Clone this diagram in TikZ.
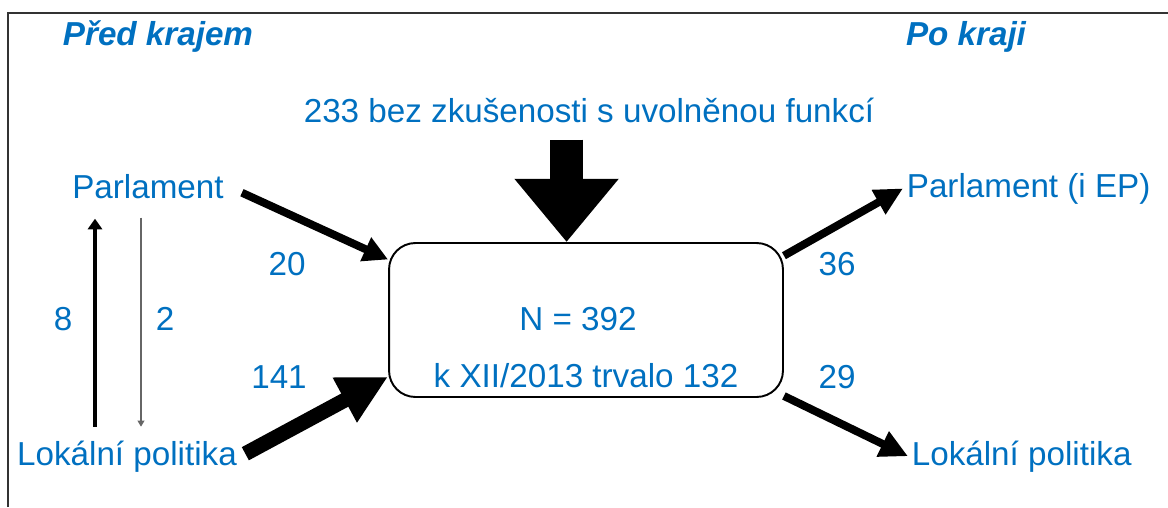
\documentclass[tikz,border=0pt]{standalone}
\usepackage{fontspec}
\setmainfont{Liberation Sans}
\usepackage{tikz}
\usetikzlibrary{arrows.meta}
\definecolor{kraj}{RGB}{0,112,192}

\begin{document}
\begin{tikzpicture}[x=0.02cm,y=-0.02cm,
    txt/.style={text=kraj,font=\fontsize{18.9}{22}\selectfont,inner sep=2pt},
    ttl/.style={txt,font=\fontsize{18.9}{22}\selectfont\bfseries\itshape},
    flow/.style={draw=black,line width=4.5pt,-{Triangle[length=14pt,width=14pt]}}]
  \useasboundingbox (0,0) rectangle (1168,507);
  \draw[line width=1.1pt,black!80] (8,507) -- (8,13) -- (1168,13);

  \node[ttl,anchor=base] (pred) at (158,45) {Před krajem};
  \node[ttl,anchor=base] (po) at (966,45) {Po kraji};
  \node[txt,anchor=base] (bez) at (589,122) {233 bez zkušenosti s uvolněnou funkcí};

  % central box
  \node[draw,line width=1.1pt,rounded corners=15pt,minimum width=7.88cm,minimum height=3.08cm] (N) at (586,320) {};
  \node[txt,anchor=base] (n) at (578,330) {N = 392};
  \node[txt,anchor=base] (trv) at (586,387) {k XII/2013 trvalo 132};

  \node[txt,anchor=base] (parl) at (148,198) {Parlament};
  \node[txt,anchor=base] (lok) at (127,465) {Lokální politika};
  \node[txt,anchor=base west] (parlEP) at (903,197) {Parlament (i EP)};
  \node[txt,anchor=base west] (lokR) at (908,465) {Lokální politika};

  \node[txt,anchor=base] (c20) at (287,275) {20};
  \node[txt,anchor=base] (c141) at (279,388) {141};
  \node[txt,anchor=base] (c8) at (63,330) {8};
  \node[txt,anchor=base] (c2) at (165,330) {2};
  \node[txt,anchor=base] (c36) at (837,275) {36};
  \node[txt,anchor=base] (c29) at (837,388) {29};

  % arrows
  \draw[line width=18.7pt,-{Triangle[length=36pt,width=57pt]},shorten <=7.7pt] (N.104 |- bez.south) -- (N.104);
  \draw[flow,shorten <=9pt] (parl.east) -- (N.163);
  \draw[flow,line width=8.5pt,-{Triangle[length=28pt,width=27pt]},shorten <=3pt] (lok.east) -- (N.196);
  \draw[flow,-{Triangle[length=16pt,width=15pt]}] (N.18) -- (parlEP.west);
  \draw[flow,-{Triangle[length=16pt,width=15pt]}] (N.339) -- (lokR.west);

  \coordinate (upx) at (95,0);
  \coordinate (dnx) at (141,0);
  \draw[line width=2pt,-{Triangle[length=6pt,width=8pt]},shorten <=5.7pt,shorten >=9.4pt] (lok.north -| upx) -- (parl.south -| upx);
  \draw[line width=0.6pt,black!60,-{Triangle[length=3.5pt,width=4pt]},shorten <=8.8pt,shorten >=5.7pt] (parl.south -| dnx) -- (lok.north -| dnx);
\end{tikzpicture}
\end{document}
